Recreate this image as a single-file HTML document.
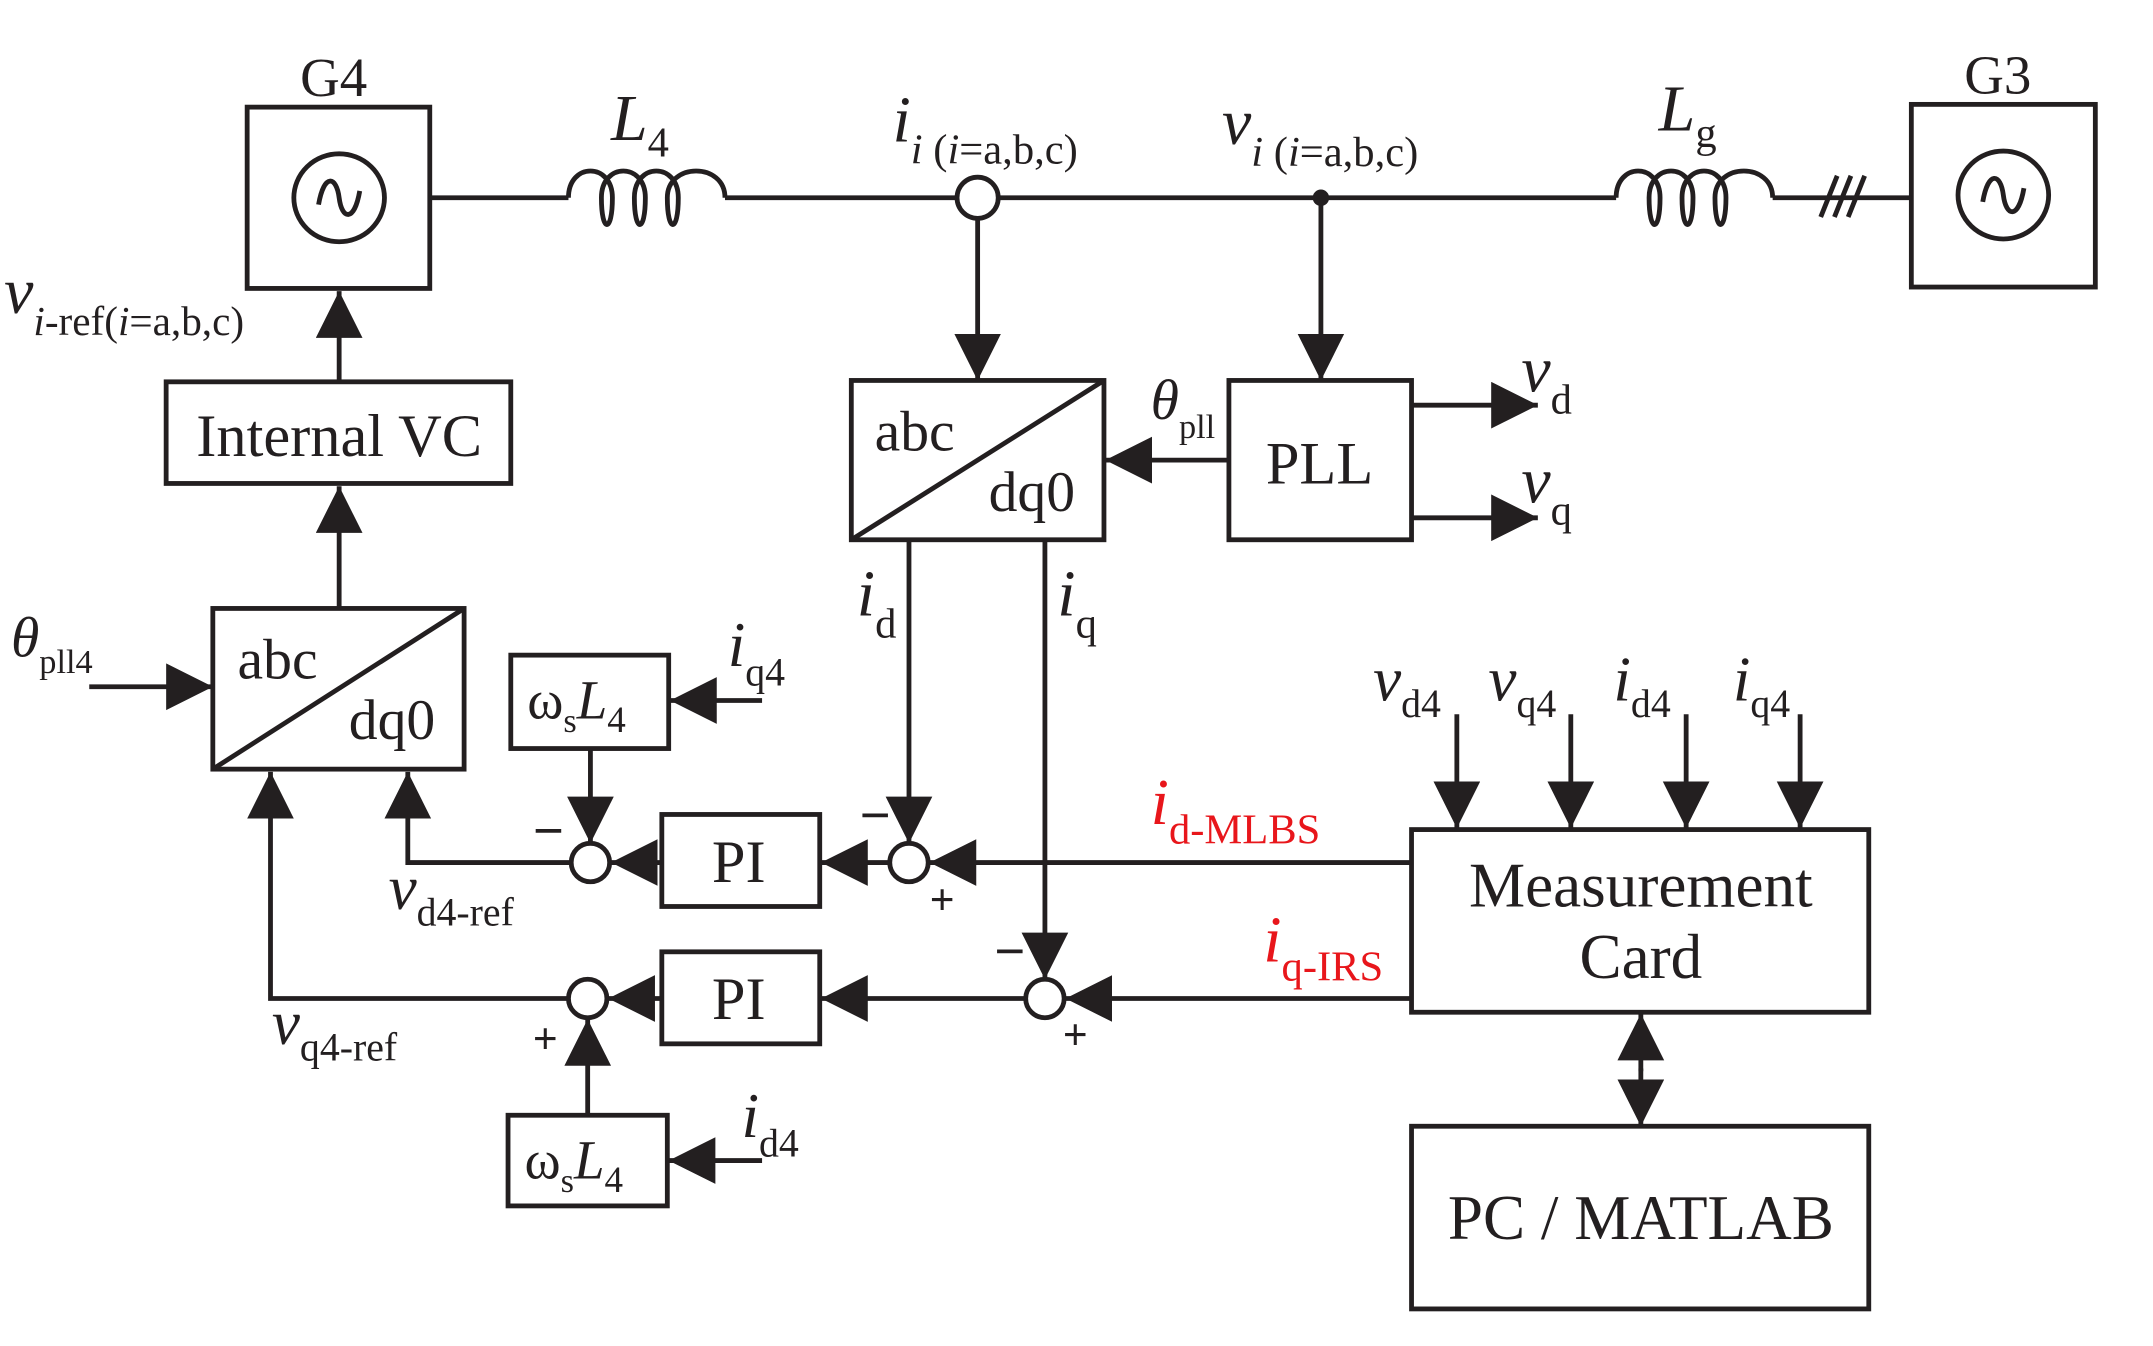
<!DOCTYPE html>
<html><head><meta charset="utf-8"><style>
html,body{margin:0;padding:0;background:#fff}
svg{display:block}
text{font-family:"Liberation Serif",serif;fill:#231f20}
.i{font-style:italic}
</style></head><body>
<svg width="2153" height="1346" viewBox="0 0 1568 980" preserveAspectRatio="none" xmlns="http://www.w3.org/2000/svg">
<defs>
<marker id="a" markerUnits="userSpaceOnUse" markerWidth="36" markerHeight="36" refX="34" refY="17" orient="auto">
<path d="M0,0 L34,17 L0,34 z" fill="#231f20"/>
</marker>
</defs>
<g stroke="#231f20" stroke-width="3.5" fill="none">
<rect x="180" y="78" width="133" height="132"/>
<ellipse cx="247" cy="144" rx="33" ry="32"/>
<path d="M232,149 C236,126 245,128 247,144 C249,160 258,162 262,139"/>
<rect x="1392" y="76" width="134" height="133"/>
<ellipse cx="1459" cy="142" rx="33" ry="32"/>
<path d="M1444,147 C1448,124 1457,126 1459,142 C1461,158 1470,160 1474,137"/>
<path d="M313,144 H414"/>
<path d="M414,144 C414,118 446,118 446,144 C446,170 438,170 438,144 C438,118 470,118 470,144 C470,170 462,170 462,144 C462,118 494,118 494,144 C494,170 486,170 486,144 C486,118 528,118 528,144"/>
<path d="M528,144 H697"/>
<circle cx="712" cy="144" r="15"/>
<path d="M727,144 H1177"/>
<path d="M1177,144 C1177,118 1209,118 1209,144 C1209,170 1201,170 1201,144 C1201,118 1233,118 1233,144 C1233,170 1225,170 1225,144 C1225,118 1257,118 1257,144 C1257,170 1249,170 1249,144 C1249,118 1291,118 1291,144"/>
<path d="M1291,144 H1392"/>
<path d="M1326,158 L1338,128 M1336,158 L1348,128 M1346,158 L1358,128"/>
<path d="M247,278 V212" marker-end="url(#a)"/>
<rect x="121" y="278" width="251" height="74"/>
<path d="M247,443 V354" marker-end="url(#a)"/>
<rect x="155" y="443" width="183" height="117"/>
<path d="M155,560 L338,443"/>
<path d="M65,500 H155" marker-end="url(#a)"/>
<rect x="372" y="477" width="115" height="68"/>
<path d="M555,510 H488" marker-end="url(#a)"/>
<path d="M430,545 V614" marker-end="url(#a)"/>
<circle cx="430" cy="628" r="14"/>
<rect x="482" y="593" width="115" height="67"/>
<path d="M482,628 H445" marker-end="url(#a)"/>
<path d="M416,628 H297 V562" marker-end="url(#a)"/>
<circle cx="662" cy="628" r="14"/>
<path d="M648,628 H598" marker-end="url(#a)"/>
<path d="M662,393 V614" marker-end="url(#a)"/>
<path d="M1028,628 H677" marker-end="url(#a)"/>
<circle cx="428" cy="727" r="14"/>
<rect x="482" y="693" width="115" height="67"/>
<path d="M482,727 H443" marker-end="url(#a)"/>
<circle cx="761" cy="727" r="14"/>
<path d="M747,727 H598" marker-end="url(#a)"/>
<path d="M761,393 V713" marker-end="url(#a)"/>
<path d="M1028,727 H776" marker-end="url(#a)"/>
<path d="M414,727 H197 V562" marker-end="url(#a)"/>
<rect x="370" y="812" width="116" height="66"/>
<path d="M428,812 V742" marker-end="url(#a)"/>
<path d="M555,845 H487" marker-end="url(#a)"/>
<path d="M712,159 V277" marker-end="url(#a)"/>
<rect x="620" y="277" width="184" height="116"/>
<path d="M620,393 L804,277"/>
<rect x="895" y="277" width="133" height="116"/>
<path d="M962,144 V277" marker-end="url(#a)"/>
<path d="M895,335 H805" marker-end="url(#a)"/>
<path d="M1028,295 H1120" marker-end="url(#a)"/>
<path d="M1028,377 H1120" marker-end="url(#a)"/>
<rect x="1028" y="604" width="333" height="133"/>
<path d="M1061,520 V603" marker-end="url(#a)"/>
<path d="M1144,520 V603" marker-end="url(#a)"/>
<path d="M1228,520 V603" marker-end="url(#a)"/>
<path d="M1311,520 V603" marker-end="url(#a)"/>
<path d="M1195,780 V738" marker-end="url(#a)"/>
<path d="M1195,778 V820" marker-end="url(#a)"/>
<rect x="1028" y="820" width="333" height="133"/>
</g>
<circle cx="962" cy="144" r="6" fill="#231f20"/>
<text x="243" y="70" font-size="40" text-anchor="middle">G4</text>
<text x="1455" y="68" font-size="40" text-anchor="middle">G3</text>
<text x="445" y="102" font-size="48" class="i">L<tspan font-size="31" font-style="normal" dy="12">4</tspan></text>
<text x="1208" y="95" font-size="48" class="i">L<tspan font-size="31" font-style="normal" dy="12">g</tspan></text>
<text x="650" y="103" font-size="48" class="i">i<tspan font-size="31" dy="16">i</tspan><tspan font-size="31" font-style="normal"> (</tspan><tspan font-size="31">i</tspan><tspan font-size="31" font-style="normal">=a,b,c)</tspan></text>
<text x="890" y="105" font-size="48" class="i">v<tspan font-size="31" dy="16">i</tspan><tspan font-size="31" font-style="normal"> (</tspan><tspan font-size="31">i</tspan><tspan font-size="31" font-style="normal">=a,b,c)</tspan></text>
<text x="3" y="228" font-size="48" class="i">v<tspan font-size="30" dy="16">i</tspan><tspan font-size="30" font-style="normal">-ref(</tspan><tspan font-size="30">i</tspan><tspan font-size="30" font-style="normal">=a,b,c)</tspan></text>
<text x="247" y="332" font-size="44" text-anchor="middle">Internal VC</text>
<text x="173" y="494" font-size="42">abc</text>
<text x="254" y="538" font-size="42">dq0</text>
<text x="637" y="328" font-size="42">abc</text>
<text x="720" y="372" font-size="42">dq0</text>
<text x="961" y="352" font-size="44" text-anchor="middle">PLL</text>
<text x="8" y="478" font-size="42" class="i">θ<tspan font-size="25" font-style="normal" dy="12">pll4</tspan></text>
<text x="838" y="305" font-size="42" class="i">θ<tspan font-size="25" font-style="normal" dy="14">pll</tspan></text>
<text x="1108" y="285" font-size="48" class="i">v<tspan font-size="31" font-style="normal" dy="16">d</tspan></text>
<text x="1108" y="366" font-size="48" class="i">v<tspan font-size="31" font-style="normal" dy="16">q</tspan></text>
<text x="384" y="523" font-size="40">ω<tspan font-size="25" dy="10">s</tspan><tspan class="i" dy="-10">L</tspan><tspan font-size="27" dy="10">4</tspan></text>
<text x="382" y="858" font-size="40">ω<tspan font-size="25" dy="10">s</tspan><tspan class="i" dy="-10">L</tspan><tspan font-size="27" dy="10">4</tspan></text>
<text x="530" y="485" font-size="46" class="i">i<tspan font-size="29" font-style="normal" dy="14">q4</tspan></text>
<text x="540" y="828" font-size="46" class="i">i<tspan font-size="29" font-style="normal" dy="14">d4</tspan></text>
<text x="624" y="448" font-size="48" class="i">i<tspan font-size="31" font-style="normal" dy="16">d</tspan></text>
<text x="770" y="448" font-size="48" class="i">i<tspan font-size="31" font-style="normal" dy="16">q</tspan></text>
<text x="538" y="642" font-size="44" text-anchor="middle">PI</text>
<text x="538" y="742" font-size="44" text-anchor="middle">PI</text>
<text x="388" y="618" font-size="40" font-weight="bold">−</text>
<text x="626" y="607" font-size="40" font-weight="bold">−</text>
<text x="677" y="666" font-size="32" font-weight="bold">+</text>
<text x="724" y="706" font-size="40" font-weight="bold">−</text>
<text x="774" y="764" font-size="32" font-weight="bold">+</text>
<text x="388" y="767" font-size="32" font-weight="bold">+</text>
<text x="283" y="662" font-size="46" class="i">v<tspan font-size="29" font-style="normal" dy="12">d4-ref</tspan></text>
<text x="198" y="760" font-size="46" class="i">v<tspan font-size="29" font-style="normal" dy="12">q4-ref</tspan></text>
<text x="838" y="600" font-size="48" class="i" style="fill:#e8161b">i<tspan font-size="31" font-style="normal" dy="14" style="fill:#e8161b">d-MLBS</tspan></text>
<text x="920" y="700" font-size="48" class="i" style="fill:#e8161b">i<tspan font-size="31" font-style="normal" dy="14" style="fill:#e8161b">q-IRS</tspan></text>
<text x="1000" y="510" font-size="46" class="i">v<tspan font-size="29" font-style="normal" dy="12">d4</tspan></text>
<text x="1084" y="510" font-size="46" class="i">v<tspan font-size="29" font-style="normal" dy="12">q4</tspan></text>
<text x="1175" y="510" font-size="46" class="i">i<tspan font-size="29" font-style="normal" dy="12">d4</tspan></text>
<text x="1262" y="510" font-size="46" class="i">i<tspan font-size="29" font-style="normal" dy="12">q4</tspan></text>
<text x="1195" y="660" font-size="46" text-anchor="middle">Measurement</text>
<text x="1195" y="712" font-size="46" text-anchor="middle">Card</text>
<text x="1195" y="902" font-size="46" text-anchor="middle">PC / MATLAB</text>
</svg>
</body></html>
